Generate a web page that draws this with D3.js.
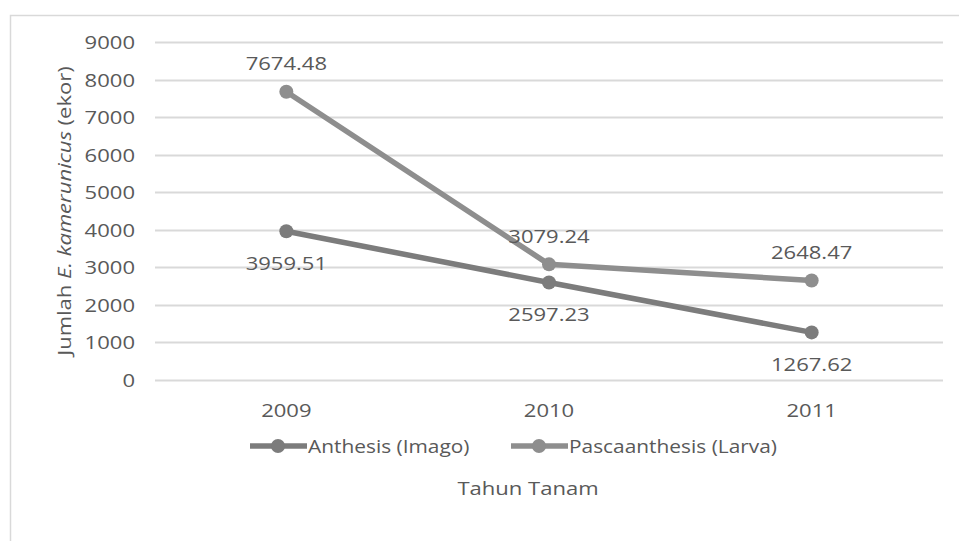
<!DOCTYPE html>
<html><head><meta charset="utf-8">
<script src="https://cdn.jsdelivr.net/npm/d3@7"></script>
<style>html,body{margin:0;padding:0;background:#fff}svg{display:block;font-family:"Open Sans",sans-serif}</style>
</head><body><svg id="c" width="959" height="541"></svg>
<script>
const years = ["2009", "2010", "2011"];
const seriesNames = ["Anthesis (Imago)", "Pascaanthesis (Larva)"];
const anthesis = [3959.51, 2597.23, 1267.62];
const pascaanthesis = [7674.48, 3079.24, 2648.47];
const yTicks = [0, 1000, 2000, 3000, 4000, 5000, 6000, 7000, 8000, 9000];
const seriesColors = ["#7c7c7c", "#8e8e8e"];
// label placement: -1 above, +1 below
const anthesisLabelPos = [1, 1, 1];
const pascaLabelPos = [-1, -1, -1];

const SX = 1.16; // horizontal stretch of text as in the reference
const txtColor = "#595959";
const svg = d3.select("#c");
// outer frame
svg.append("rect").attr("x", 10.5).attr("y", 15.5).attr("width", 960).attr("height", 540)
  .attr("fill", "none").attr("stroke", "#d9d9d9").attr("stroke-width", 1.5);

const x = d3.scaleBand().domain(years).range([155, 943]);
const y = d3.scaleLinear().domain([0, 9000]).range([380, 42]);

// gridlines
svg.append("g").selectAll("line").data(yTicks).join("line")
  .attr("x1", 155).attr("x2", 943)
  .attr("y1", d => Math.round(y(d)) + 0.5).attr("y2", d => Math.round(y(d)) + 0.5)
  .attr("stroke", "#d9d9d9").attr("stroke-width", 2);

// helper: stretched text
function stext(parent, px, py, str, size, anchor) {
  const g = parent.append("g").attr("transform", `translate(${px},${py}) scale(${SX},1)`);
  return g.append("text").attr("text-anchor", anchor || "middle").attr("font-size", size)
    .attr("fill", txtColor).text(str);
}

// y axis labels
const yAxis = d3.axisLeft(y).tickValues(yTicks).tickFormat(d3.format("d")).tickSize(0).tickPadding(0);
const gy = svg.append("g").attr("transform", "translate(135,0)").call(yAxis);
gy.select(".domain").remove();
gy.selectAll("text").attr("font-size", 19).attr("fill", txtColor).attr("font-family", "Open Sans")
  .attr("dy", "0.34em").attr("transform", `scale(${SX},1)`);

// x axis labels
const xAxis = d3.axisBottom(x).tickSize(0).tickPadding(0);
const gx = svg.append("g").attr("transform", "translate(0,417)").call(xAxis);
gx.select(".domain").remove();
gx.selectAll("text").attr("font-size", 19).attr("fill", txtColor).attr("font-family", "Open Sans")
  .attr("y", 0).attr("dy", 0).attr("transform", `scale(${SX},1)`);

const cx = d => x(d) + x.bandwidth() / 2;
const data = [
  {name: seriesNames[0], vals: anthesis, color: seriesColors[0], pos: anthesisLabelPos},
  {name: seriesNames[1], vals: pascaanthesis, color: seriesColors[1], pos: pascaLabelPos}
];
const line = d3.line().x((d, i) => cx(years[i])).y(d => y(d));

[data[1], data[0]].forEach(s => {
  svg.append("path").datum(s.vals).attr("d", line).attr("fill", "none")
    .attr("stroke", s.color).attr("stroke-width", 5.5).attr("stroke-linejoin", "round");
  svg.append("g").selectAll("circle").data(s.vals).join("circle")
    .attr("cx", (d, i) => cx(years[i])).attr("cy", d => y(d)).attr("r", 7)
    .attr("fill", s.color);
});
data.forEach(s => {
  const g = svg.append("g");
  s.vals.forEach((d, i) => {
    stext(g, cx(years[i]), y(d) + (s.pos[i] < 0 ? -21.5 : 38.5), d.toFixed(2), 19);
  });
});

// y axis title
const ytg = svg.append("g").attr("transform", `translate(71,211) rotate(-90) scale(${SX},1)`);
const yt = ytg.append("text").attr("text-anchor", "middle").attr("font-size", 19).attr("fill", txtColor);
yt.append("tspan").text("Jumlah ");
yt.append("tspan").attr("font-style", "italic").text("E. kamerunicus");
yt.append("tspan").text(" (ekor)");

// legend
const legX = [250, 511];
data.forEach((s, i) => {
  const g = svg.append("g").attr("transform", `translate(${legX[i]},446)`);
  g.append("line").attr("x1", 0).attr("x2", 57).attr("y1", 0).attr("y2", 0)
    .attr("stroke", s.color).attr("stroke-width", 5.5);
  g.append("circle").attr("cx", 28).attr("cy", 0).attr("r", 7).attr("fill", s.color);
  stext(g, 58, 6.5, s.name, 18, "start");
});

// x axis title
stext(svg, 528, 495, "Tahun Tanam", 19);
</script></body></html>
